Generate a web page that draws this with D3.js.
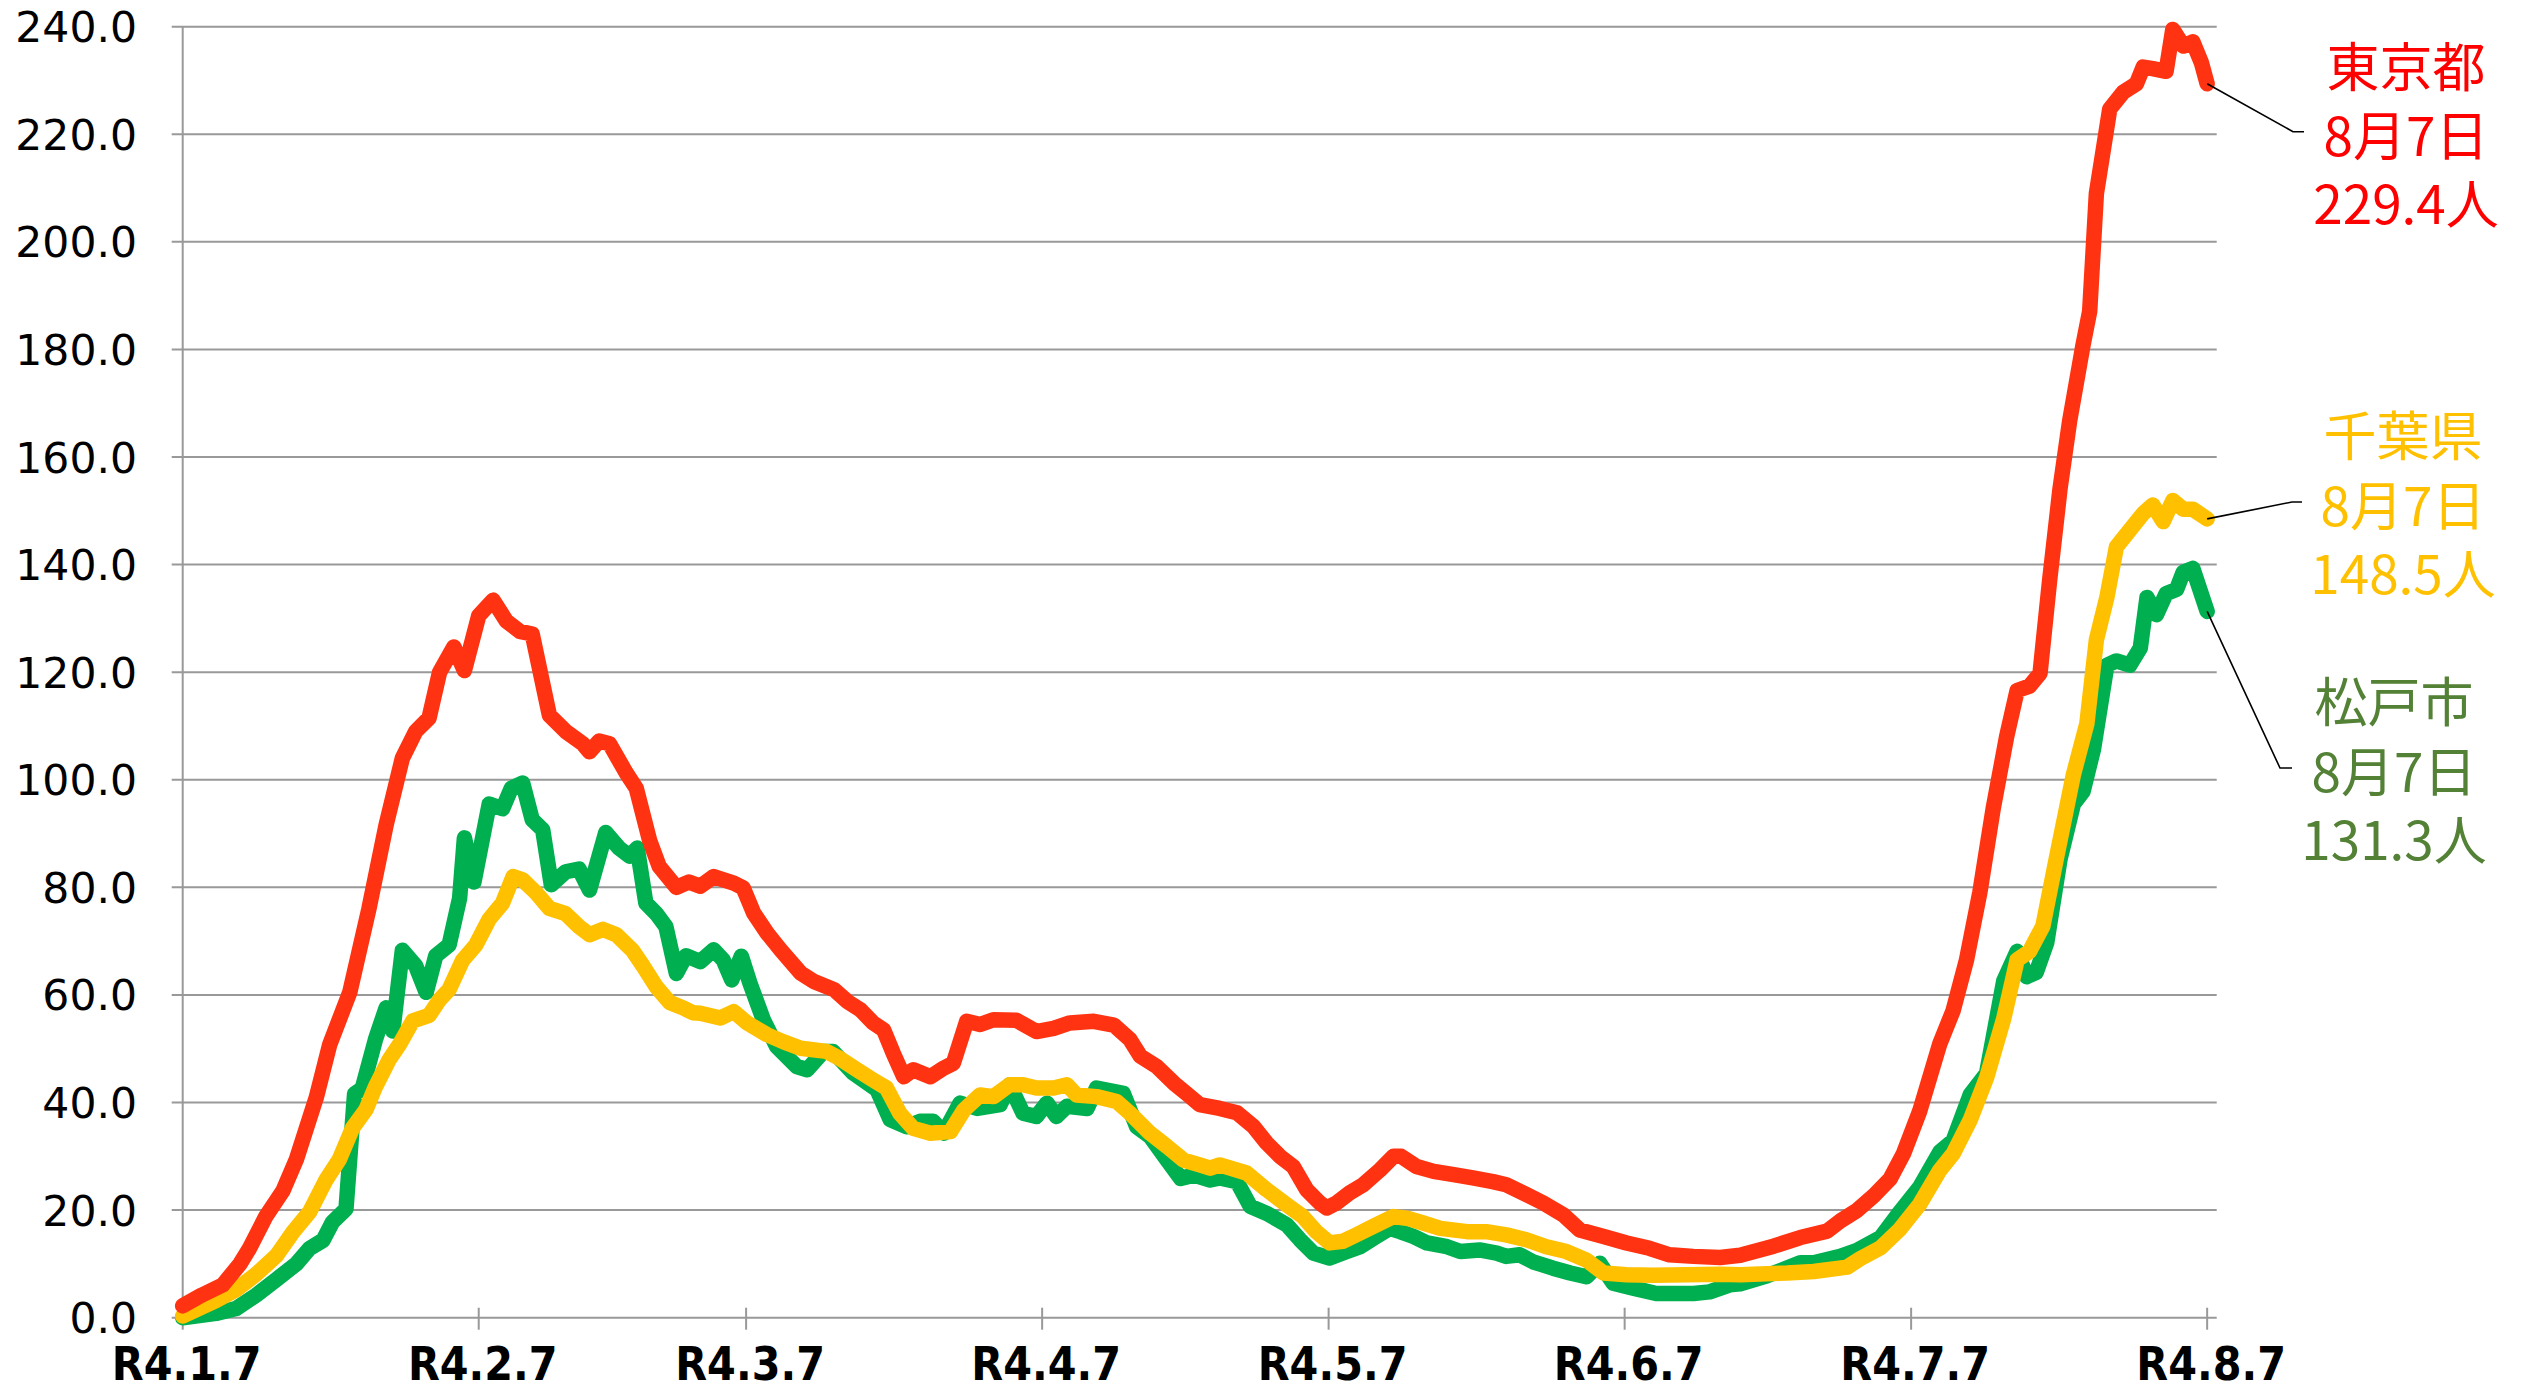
<!DOCTYPE html>
<html>
<head>
<meta charset="utf-8">
<script src="https://cdnjs.cloudflare.com/ajax/libs/d3/7.8.5/d3.min.js"></script>
<style>
  html, body { margin: 0; padding: 0; background: #ffffff; }
  svg { display: block; }
</style>
</head>
<body>
<div id="chart"></div>
<script>

const width = 2527, height = 1390;

// DONNEES : [jour depuis R4.1.7, valeur]
const tokyo = [[0,2.2],[2,4.2],[4.2,6.1],[6,10],[7,12.9],[8.7,18.8],[10.5,23.6],[11.9,29.4],[14,41],[15.4,50.8],[17.5,60.5],[19.5,76],[21.3,91.6],[23,104],[24.4,109],[25.8,111.5],[26.9,120],[28.4,124.7],[29.5,120.3],[31,130.5],[32.5,133.4],[33.9,129.5],[35.3,127.6],[36.6,127.1],[38.4,112],[40.1,109],[41.9,106.7],[42.6,105.2],[43.6,107.2],[44.7,106.7],[46.4,101.4],[47.5,98.4],[48.9,88.7],[49.9,83.9],[51.7,80],[53,81],[54.2,80.2],[55.6,82],[57.7,80.8],[58.7,79.9],[59.8,75.2],[61.2,71.5],[62.6,68.4],[64.7,64.1],[66.1,62.5],[68.2,61],[69.6,58.8],[71,57.2],[72.3,54.8],[73.4,53.5],[74.4,49.2],[75.5,44.8],[76.5,46.1],[78.3,44.8],[79.7,46.4],[80.7,47.3],[82.1,55.1],[83.5,54.5],[84.9,55.4],[87.3,55.3],[89.4,53.2],[91.2,53.8],[92.9,54.8],[95.4,55.1],[97.5,54.4],[99.2,51.7],[100.3,48.6],[102,46.7],[103.8,43.6],[105.1,41.7],[106.5,39.6],[108.6,38.9],[110.4,38.1],[112.1,35.6],[113.5,32.5],[114.9,30],[116.3,28.1],[117.7,23.8],[119.1,21.3],[119.8,20.4],[120.8,21.3],[122.2,23.2],[123.6,24.7],[125.4,27.5],[126.8,30],[127.6,30],[129.2,28.1],[131,27.2],[133.1,26.6],[135.1,26],[137.2,25.3],[138.6,24.7],[140.7,22.9],[142.5,21.3],[144.6,19.1],[146.3,16.3],[148.8,15.1],[151.2,13.9],[153.6,12.9],[155.7,11.7],[158.2,11.4],[161,11.2],[163.1,11.6],[166.6,13.3],[169.4,14.9],[172.2,16.1],[173.6,18],[175.3,19.9],[177.1,22.7],[178.8,25.8],[180.2,30.5],[181.9,38.4],[184,50.9],[185.4,57.1],[186.8,66.5],[188.2,79.1],[189.6,94.7],[191,108],[192.1,116.6],[193.4,117.4],[194.5,119.8],[195.5,137],[196.6,154.2],[197.6,166.7],[199,180.8],[199.7,187.1],[200.4,209],[201.8,224.7],[203.2,227.8],[204.6,229.4],[205.3,232.5],[206.3,232.2],[207.7,231.7],[208.4,239.5],[209.5,236.4],[210.5,237.2],[211.4,233.3],[212,229.4]];

const chiba = [[0,0.3],[3.5,3.2],[5.6,5.2],[7.7,8.1],[9.8,11.5],[11.5,15.8],[13.3,19.7],[15,25.6],[16.4,29.4],[17.8,35.3],[19.2,38.7],[20.2,43],[21.6,47.9],[22.7,50.8],[24.1,55.2],[25.8,56.2],[26.9,59.1],[27.9,61],[29.3,66.4],[30.7,69.3],[32.1,74.1],[33.5,77.1],[34.6,82],[35.6,81.4],[37,79],[38.4,76.1],[40.1,75.1],[41.5,72.7],[42.6,71.2],[44,72.2],[45.4,71.2],[47.1,68.3],[48.2,65.4],[49.6,61.5],[51,58.6],[52.4,57.6],[53.4,56.7],[54.2,56.6],[56.3,55.7],[57.7,56.9],[59.1,54.8],[61.2,52.6],[62.9,51.3],[64.7,50.1],[67.4,49.5],[68.8,48.2],[70.6,46.1],[72.3,44.2],[73.7,42.7],[75.1,38],[76.5,35.2],[78.3,34.3],[80.4,34.6],[81.8,38.6],[83.5,41.4],[84.9,41.1],[86.6,43.3],[88,43.3],[89.4,42.7],[91.2,42.7],[92.6,43.3],[93.6,41.4],[95.7,41.1],[97.8,40.2],[99.2,38],[101.3,34.3],[103.1,31.8],[104.8,29.3],[106.5,28.4],[107.6,27.8],[108.6,28.4],[111.4,26.9],[113.5,23.8],[115.6,21],[117.3,18.8],[118.7,16],[120.1,13.9],[121.5,14.2],[122.9,15.4],[124.7,17],[126.8,18.8],[128.2,18.5],[129.9,17.6],[131.7,16.6],[134.5,16],[136.5,16],[138.6,15.4],[140.7,14.5],[142.8,13.2],[144.9,12.3],[147,10.7],[148.8,8.3],[151.2,8],[154,7.9],[157.5,8],[161,8.1],[163.1,8],[168,8.3],[170.8,8.6],[174.3,9.4],[175.7,11],[177.8,13],[179.8,16.4],[181.9,21.1],[184,27.4],[185.4,30.5],[187.2,36.8],[188.9,44.6],[190.7,55.6],[192.1,66.5],[193.4,68.1],[194.8,72.8],[196.2,85.3],[198,101],[199.4,110.4],[200.4,126],[201.5,133.9],[202.5,143.3],[203.9,146.4],[205.3,149.5],[206.3,151.1],[207.4,148],[208.4,151.9],[209.5,150.3],[210.5,150.3],[212,148.5]];

const matsudo = [[0,0],[3.5,0.8],[5.6,1.7],[7.7,4.2],[9.8,7.1],[11.9,10],[13.3,12.9],[14.7,14.4],[15.7,17.8],[17.1,20.2],[18,41.6],[18.8,42.6],[20.2,51.8],[21.3,57.6],[22,53.3],[23,68.3],[24.4,65.4],[25.5,60.5],[26.5,67.3],[27.9,69.3],[29,78],[29.5,89.2],[30.5,81],[32.1,95.5],[33.5,94.6],[34.4,98.4],[35.6,99.4],[36.6,92.6],[37.7,90.7],[38.6,80.5],[40.1,82.9],[41.5,83.4],[42.6,79.5],[44.3,90.2],[45.7,87.3],[46.8,85.8],[47.6,87.3],[48.5,77.1],[49.6,75.1],[50.6,72.7],[51.7,64],[52.7,67.3],[54.2,66.2],[55.6,68.4],[56.6,66.5],[57.5,62.8],[58.5,67.2],[59.4,62.2],[60.8,55.4],[62.2,50.4],[64.3,46.7],[65.4,46.1],[67.1,49.5],[68.1,49.5],[70.2,45.5],[72.7,42.4],[74.1,36.8],[75.8,35.5],[77.2,36.5],[78.6,36.5],[79.7,34.3],[81.4,39.9],[83.2,38.9],[85.6,39.6],[86.6,43.3],[88,38],[89.4,37.4],[90.5,39.9],[91.5,37.4],[92.6,39.3],[94.7,38.9],[95.7,42.7],[98.5,41.7],[99.9,35.5],[101.3,33.7],[103.1,29.3],[104.5,25.9],[105.9,26.5],[107.6,25.6],[108.6,26],[110.4,25.3],[111.8,20.7],[113.5,19.4],[115.6,17.3],[117,14.5],[118.4,12],[120.1,11.1],[121.9,12.3],[123.3,13.2],[125,15.1],[126.4,16.6],[127.5,16],[128.9,15.1],[130.3,13.9],[132.4,13.2],[133.8,12.3],[135.8,12.6],[137.6,12],[138.6,11.4],[140,11.7],[141.4,10.4],[143.5,9.2],[145.3,8.3],[147,7.6],[148.4,10.1],[149.8,6.4],[151.9,5.5],[154.3,4.5],[156.1,4.5],[158.2,4.5],[159.9,4.8],[162,6.1],[163.1,6.3],[165.9,7.8],[169.4,10.2],[170.8,10.2],[173.6,11.4],[175.3,12.5],[177.8,14.9],[179.8,19.6],[181.9,24.3],[184,30.8],[185.4,32.9],[187.2,41.5],[188.9,45.4],[190.7,62.6],[192.1,68.1],[193.1,63.4],[194.1,64.2],[195.2,69.7],[196.6,85.3],[198,95.5],[199,97.8],[200.1,105.7],[201.5,121.3],[202.5,122.1],[203.9,121.3],[205,124.5],[205.7,133.9],[206.7,130.7],[207.7,134.6],[208.8,135.4],[209.5,138.6],[210.5,139.3],[212,131.3]];

const tickDays = [0, 31, 59, 90, 120, 151, 181, 212];
const tickLabels = ["R4.1.7", "R4.2.7", "R4.3.7", "R4.4.7", "R4.5.7", "R4.6.7", "R4.7.7", "R4.8.7"];
const yTickValues = [0, 20, 40, 60, 80, 100, 120, 140, 160, 180, 200, 220, 240];

const seriesNames = ["東京都", "千葉県", "松戸市"];
const seriesDate = "8月7日";
const seriesLast = ["229.4人", "148.5人", "131.3人"];

// ZONE DU GRAPHIQUE
const plotLeft = 182.7, plotRight = 2216.7, plotTop = 26.7, plotBottom = 1317.7;

const x = d3.scaleLinear().domain([0, 213]).range([plotLeft, plotRight]);
const y = d3.scaleLinear().domain([0, 240]).range([plotBottom, plotTop]);

let svg = d3.select("#chart")
	.append("svg")
	.attr("width", width)
	.attr("height", height);

svg.append("rect").attr("width", width).attr("height", height).attr("fill", "#ffffff");

// GRILLE + AXE Y
let grid = svg.append("g");
grid.selectAll("line")
	.data(yTickValues)
	.enter()
	.append("line")
	.attr("x1", plotLeft - 11)
	.attr("x2", plotRight)
	.attr("y1", d => y(d))
	.attr("y2", d => y(d))
	.style("stroke", "#999999")
	.style("stroke-width", 2);

grid.append("line")
	.attr("x1", plotLeft).attr("x2", plotLeft)
	.attr("y1", plotTop).attr("y2", plotBottom)
	.style("stroke", "#999999")
	.style("stroke-width", 2);

svg.append("g")
	.selectAll("text")
	.data(yTickValues)
	.enter()
	.append("text")
	.attr("x", 137)
	.attr("y", d => y(d) + 15.5)
	.attr("text-anchor", "end")
	.style("font-family", "'DejaVu Sans', Verdana, sans-serif")
	.style("font-size", "42.5px")
	.style("fill", "#000")
	.text(d => d.toFixed(1));

// AXE X
let xAxis = svg.append("g");
xAxis.selectAll("line")
	.data(tickDays)
	.enter()
	.append("line")
	.attr("x1", d => x(d)).attr("x2", d => x(d))
	.attr("y1", plotBottom - 10).attr("y2", plotBottom + 12)
	.style("stroke", "#999999")
	.style("stroke-width", 2);

xAxis.selectAll("text")
	.data(tickDays)
	.enter()
	.append("text")
	.attr("x", d => x(d) + 4)
	.attr("y", 1380)
	.attr("text-anchor", "middle")
	.style("font-family", "'DejaVu Sans Condensed', 'DejaVu Sans', sans-serif")
	.style("font-stretch", "condensed")
	.style("font-weight", "bold")
	.style("font-size", "46px")
	.style("fill", "#000")
	.text((d, i) => tickLabels[i]);

// COURBES
const line = d3.line().x(d => x(d[0])).y(d => y(d[1]));

const courbes = [
	{ data: matsudo, color: "#00B050" },
	{ data: chiba, color: "#FFC000" },
	{ data: tokyo, color: "#FF3311" }
];

let lines = svg.append("g");
courbes.forEach(c => {
	lines.append("path")
		.attr("d", line(c.data))
		.style("fill", "none")
		.style("stroke", c.color)
		.style("stroke-width", 15.5)
		.style("stroke-linejoin", "round")
		.style("stroke-linecap", "round");
});

// ETIQUETTES
const etiquettes = [
	{ data: tokyo, color: "#FF0000", cx: 2406, cy: [63.5, 132.5, 201], elbow: [2293, 131.7], end: 2304 },
	{ data: chiba, color: "#FFC000", cx: 2403, cy: [432.5, 502.5, 570.5], elbow: [2292, 502], end: 2302 },
	{ data: matsudo, color: "#538135", cx: 2394, cy: [699, 768.5, 836.5], elbow: [2280, 768], end: 2292 }
];

let labels = svg.append("g");
etiquettes.forEach((e, i) => {
	const last = e.data[e.data.length - 1];
	labels.append("path")
		.attr("d", "M" + x(last[0]) + "," + y(last[1]) + "L" + e.elbow[0] + "," + e.elbow[1] + "L" + e.end + "," + e.elbow[1])
		.style("fill", "none")
		.style("stroke", "#000")
		.style("stroke-width", 1.6);

	[seriesNames[i], seriesDate, seriesLast[i]].forEach((t, k) => {
		labels.append("text")
			.attr("x", e.cx)
			.attr("y", e.cy[k])
			.attr("text-anchor", "middle")
			.attr("dominant-baseline", "central")
			.style("font-family", "'Noto Sans CJK JP', sans-serif")
			.style("font-size", "53px")
			.style("fill", e.color)
			.text(t);
	});
});

</script>
</body>
</html>
